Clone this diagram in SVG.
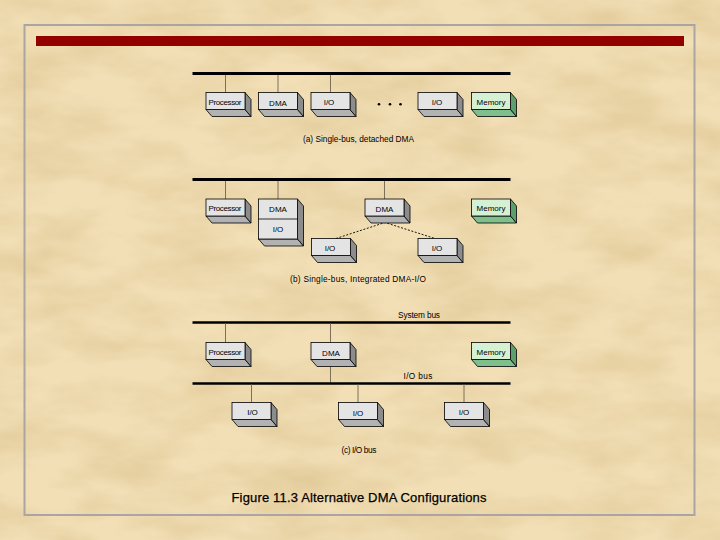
<svg xmlns="http://www.w3.org/2000/svg" xmlns:xlink="http://www.w3.org/1999/xlink" width="720" height="540" viewBox="0 0 720 540">
<style>
.t{font-family:"Liberation Sans",Arial,sans-serif;font-size:8px;fill:#000}
.cap{font-family:"Liberation Sans",Arial,sans-serif;font-size:8.3px;fill:#000}
.title{font-family:"Liberation Sans",Arial,sans-serif;font-size:13px;fill:#000;stroke:#000;stroke-width:0.25}
.bus{stroke:#000;stroke-width:3;fill:none}
.bus2{stroke:#000;stroke-width:2.5;fill:none}
.drop{stroke:#7d705a;stroke-width:1;fill:none}
.dash{stroke:#000;stroke-width:0.9;stroke-dasharray:2 1.6;fill:none}
.edge{stroke:#000;stroke-width:0.8;stroke-linejoin:miter}
</style>
<defs>
<filter id="paper" x="0" y="0" width="100%" height="100%">
<feTurbulence type="fractalNoise" baseFrequency="0.012 0.028" numOctaves="4" seed="7" result="n"/>
<feColorMatrix in="n" type="matrix" values="0 0 0 0 0.7  0 0 0 0 0.53  0 0 0 0 0.26  1.1 0 0 0 -0.38"/>
</filter>
<g id="box">
<polygon class="edge" points="0,17 39,17 45,24 6,24" fill="#b2b2b2"/>
<polygon class="edge" points="39,0 45,7 45,24 39,17" fill="#8c8c8c"/>
<rect class="edge" x="0" y="0" width="39" height="17" fill="#e4e4e4"/>
</g>
<g id="gbox">
<polygon class="edge" points="0,17 39,17 45,24 6,24" fill="#7fbf8c"/>
<polygon class="edge" points="39,0 45,7 45,24 39,17" fill="#5e9e6c"/>
<rect class="edge" x="0" y="0" width="39" height="17" fill="#d6f0d4"/>
</g>
<g id="sbox">
<polygon class="edge" points="0,40 39,40 45,47 6,47" fill="#b2b2b2"/>
<polygon class="edge" points="39,0 45,7 45,47 39,40" fill="#8c8c8c"/>
<rect class="edge" x="0" y="0" width="39" height="40" fill="#e4e4e4"/>
<line class="edge" x1="0" y1="20" x2="39" y2="20"/>
</g>
</defs>
<rect x="0" y="0" width="720" height="540" fill="#f2dfb6"/>
<rect x="0" y="0" width="720" height="540" filter="url(#paper)"/>
<rect x="24.5" y="25" width="670" height="490" fill="none" stroke="#aaa4a6" stroke-width="2"/>
<rect x="36" y="36" width="648" height="10" fill="#920000"/>

<g id="connectors">
<line class="bus" x1="192.5" y1="73.5" x2="510.5" y2="73.5"/>
<line class="drop" x1="225.5" y1="75" x2="225.5" y2="92.5"/>
<line class="drop" x1="278" y1="75" x2="278" y2="92.5"/>
<line class="drop" x1="330.5" y1="75" x2="330.5" y2="92.5"/>
<line class="bus" x1="192.5" y1="179.5" x2="510.5" y2="179.5"/>
<line class="drop" x1="225.5" y1="181" x2="225.5" y2="199"/>
<line class="drop" x1="278" y1="181" x2="278" y2="199"/>
<line class="drop" x1="384.5" y1="181" x2="384.5" y2="199"/>
<polyline class="dash" points="336,238.5 385,222.5 435,238.5"/>
<line class="bus2" x1="192.5" y1="322.5" x2="510.5" y2="322.5"/>
<line class="drop" x1="225.5" y1="323.5" x2="225.5" y2="342.5"/>
<line class="drop" x1="330.5" y1="323.5" x2="330.5" y2="342.5"/>
<line class="drop" x1="330.5" y1="360" x2="330.5" y2="382.5"/>
<line class="bus2" x1="192.5" y1="383.5" x2="510.5" y2="383.5"/>
<line class="drop" x1="251.5" y1="384.5" x2="251.5" y2="402.5"/>
<line class="drop" x1="358" y1="384.5" x2="358" y2="402.5"/>
<line class="drop" x1="464" y1="384.5" x2="464" y2="402.5"/>
</g>

<g id="a-processor"><use xlink:href="#box" x="206" y="92.5"/><text class="t" x="208.5" y="104.5" font-size="7.5" textLength="33">Processor</text></g>
<g id="a-dma"><use xlink:href="#box" x="258.5" y="92.5"/><text class="t" x="278" y="105.5" text-anchor="middle">DMA</text></g>
<g id="a-io1"><use xlink:href="#box" x="311" y="92.5"/><text class="t" x="329" y="104.5" text-anchor="middle">I/O</text></g>
<g id="a-dots"><circle cx="379" cy="104.3" r="1.3"/><circle cx="390" cy="104.3" r="1.3"/><circle cx="400.5" cy="104.3" r="1.3"/></g>
<g id="a-io2"><use xlink:href="#box" x="418" y="92.5"/><text class="t" x="437" y="104.5" text-anchor="middle">I/O</text></g>
<g id="a-memory"><use xlink:href="#gbox" x="471.5" y="92.5"/><text class="t" x="491" y="104.5" text-anchor="middle">Memory</text></g>
<text class="cap" x="358.5" y="142" text-anchor="middle" textLength="111">(a) Single-bus, detached DMA</text>

<g id="b-processor"><use xlink:href="#box" x="206" y="199"/><text class="t" x="208.5" y="211" font-size="7.5" textLength="33">Processor</text></g>
<g id="b-dmaio"><use xlink:href="#sbox" x="258.5" y="199"/><text class="t" x="278" y="212" text-anchor="middle">DMA</text><text class="t" x="278" y="232" text-anchor="middle">I/O</text></g>
<g id="b-dma"><use xlink:href="#box" x="365" y="199"/><text class="t" x="384.5" y="212" text-anchor="middle">DMA</text></g>
<g id="b-memory"><use xlink:href="#gbox" x="471.5" y="199"/><text class="t" x="491" y="211" text-anchor="middle">Memory</text></g>
<g id="b-io1"><use xlink:href="#box" x="311.5" y="238.5"/><text class="t" x="330" y="251" text-anchor="middle">I/O</text></g>
<g id="b-io2"><use xlink:href="#box" x="418" y="238.5"/><text class="t" x="437" y="251" text-anchor="middle">I/O</text></g>
<text class="cap" x="358" y="282" text-anchor="middle" textLength="136">(b) Single-bus, Integrated DMA-I/O</text>

<text class="cap" x="419" y="318" text-anchor="middle" textLength="42">System bus</text>
<g id="c-processor"><use xlink:href="#box" x="206" y="342.5"/><text class="t" x="208.5" y="354.5" font-size="7.5" textLength="33">Processor</text></g>
<g id="c-dma"><use xlink:href="#box" x="311" y="342.5"/><text class="t" x="331" y="355.5" text-anchor="middle">DMA</text></g>
<g id="c-memory"><use xlink:href="#gbox" x="471.5" y="342.5"/><text class="t" x="491" y="354.5" text-anchor="middle">Memory</text></g>
<text class="cap" x="418" y="378.5" text-anchor="middle" textLength="29">I/O bus</text>
<g id="c-io1"><use xlink:href="#box" x="232" y="402.5"/><text class="t" x="252.5" y="414.5" text-anchor="middle">I/O</text></g>
<g id="c-io2"><use xlink:href="#box" x="338.5" y="402.5"/><text class="t" x="358" y="415.5" text-anchor="middle">I/O</text></g>
<g id="c-io3"><use xlink:href="#box" x="444.5" y="402.5"/><text class="t" x="464" y="414.5" text-anchor="middle">I/O</text></g>
<text class="cap" x="359" y="453" text-anchor="middle" textLength="35">(c) I/O bus</text>

<text class="title" x="359" y="502" text-anchor="middle" textLength="255">Figure 11.3 Alternative DMA Configurations</text>
</svg>
